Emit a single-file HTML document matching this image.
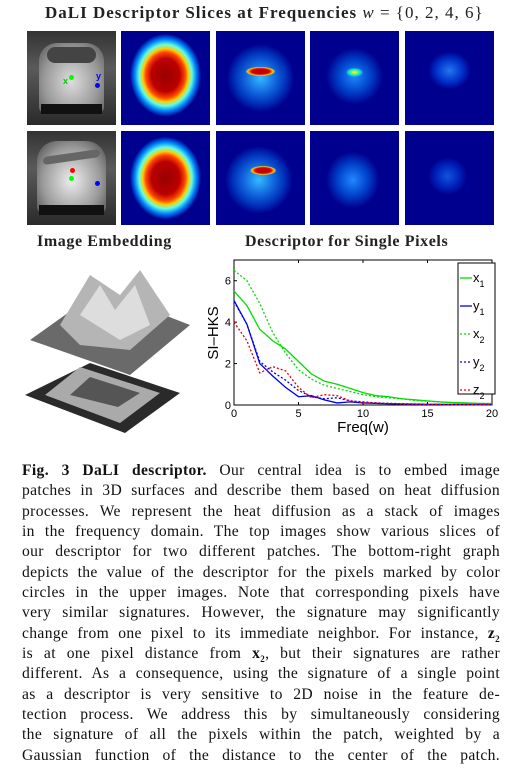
<!DOCTYPE html>
<html><head><meta charset="utf-8"><style>
body{margin:0;width:510px;height:774px;background:#fff;position:relative;overflow:hidden;font-family:"Liberation Serif",serif}
.t{position:absolute;font-weight:bold;font-size:16px;color:#222;white-space:nowrap;letter-spacing:0.6px}
.tile{position:absolute;width:89px;height:94px;background:#00008f}
.car{position:absolute;width:89px;height:94px;background:linear-gradient(#333,#5a5a5a 40%,#2a2a2a)}
#cap{position:absolute;left:22px;top:461px;width:478px;font-size:15.6px;letter-spacing:0.35px;color:#111}
#cap div{height:20.35px;line-height:20.35px;text-align:justify;text-align-last:justify;white-space:nowrap}
sub{font-size:9px;line-height:0}
</style></head><body>
<div class="t" style="left:45px;top:3px;font-size:17px;letter-spacing:1px">DaLI Descriptor Slices at Frequencies <i style="font-weight:normal">w</i> <span style="font-weight:normal">= {0, 2, 4, 6}</span></div>

<div class="car" style="left:27px;top:31px">
<div style="position:absolute;left:12px;top:12px;width:65px;height:70px;border-radius:18px 18px 6px 6px;background:radial-gradient(ellipse at 50% 55%,#ddd,#999 60%,#555)"></div>
<div style="position:absolute;left:20px;top:16px;width:49px;height:16px;background:#444;border-radius:8px"></div>
<div style="position:absolute;left:14px;top:73px;width:61px;height:10px;background:#111"></div>
<div style="position:absolute;left:42px;top:44px;width:5px;height:5px;border-radius:50%;background:#0f0"></div>
<div style="position:absolute;left:68px;top:52px;width:5px;height:5px;border-radius:50%;background:#00f"></div>
<span style="position:absolute;left:36px;top:45px;color:#0c0;font:bold 9px 'Liberation Sans'">x</span>
<span style="position:absolute;left:69px;top:40px;color:#00f;font:bold 9px 'Liberation Sans'">y</span>
</div>
<div class="car" style="left:27px;top:131px">
<div style="position:absolute;left:10px;top:10px;width:69px;height:72px;border-radius:20px 20px 6px 6px;background:radial-gradient(ellipse at 50% 55%,#eee,#999 60%,#444)"></div>
<div style="position:absolute;left:16px;top:22px;width:57px;height:8px;background:#666;border-radius:8px;transform:skewY(-8deg)"></div>
<div style="position:absolute;left:12px;top:74px;width:65px;height:10px;background:#111"></div>
<div style="position:absolute;left:42px;top:45px;width:5px;height:5px;border-radius:50%;background:#0f0"></div>
<div style="position:absolute;left:43px;top:37px;width:5px;height:5px;border-radius:50%;background:#f00"></div>
<div style="position:absolute;left:68px;top:50px;width:5px;height:5px;border-radius:50%;background:#00f"></div>
</div>

<div class="tile" style="left:121px;top:31px;background:radial-gradient(ellipse 40% 44% at 50% 47%,#900 0%,#b00 40%,#f40 55%,#fc0 64%,#6fd 74%,#08f 86%,#00008f 100%),#00008f"></div>
<div class="tile" style="left:216px;top:31px;background:radial-gradient(ellipse 17% 5% at 50% 43%,#a00 0%,#d00 60%,#fc0 85%,transparent 100%),radial-gradient(ellipse 38% 36% at 50% 50%,#3bf 0%,#16d 45%,#03b 75%,#00008f 100%)"></div>
<div class="tile" style="left:310px;top:31px;background:radial-gradient(ellipse 10% 5% at 50% 44%,#ff0 0%,#0dd 70%,transparent 100%),radial-gradient(ellipse 32% 30% at 50% 48%,#28f 0%,#04c 55%,#00008f 100%)"></div>
<div class="tile" style="left:405px;top:31px;background:radial-gradient(ellipse 24% 20% at 50% 42%,#27e 0%,#03c 60%,#00008f 100%)"></div>

<div class="tile" style="left:121px;top:131px;background:radial-gradient(ellipse 40% 44% at 50% 50%,#900 0%,#b00 40%,#f40 55%,#fc0 64%,#6fd 74%,#08f 86%,#00008f 100%),#00008f"></div>
<div class="tile" style="left:216px;top:131px;background:radial-gradient(ellipse 15% 5% at 53% 42%,#a00 0%,#d00 60%,#fc0 85%,transparent 100%),radial-gradient(ellipse 38% 36% at 48% 52%,#3bf 0%,#16d 45%,#03b 75%,#00008f 100%)"></div>
<div class="tile" style="left:310px;top:131px;background:radial-gradient(ellipse 30% 30% at 48% 52%,#28f 0%,#04c 55%,#00008f 100%)"></div>
<div class="tile" style="left:405px;top:131px;background:radial-gradient(ellipse 22% 20% at 48% 48%,#15d 0%,#02b 60%,#00008f 100%)"></div>

<div class="t" style="left:37px;top:233px">Image Embedding</div>
<div class="t" style="left:245px;top:233px">Descriptor for Single Pixels</div>

<svg style="position:absolute;left:20px;top:255px" width="180" height="180">
<polygon points="70,108 160,138 105,178 5,140" fill="#2a2a2a"/>
<polygon points="60,112 140,138 100,168 25,140" fill="#aaa"/>
<polygon points="70,122 120,138 98,152 50,140" fill="#555"/>
<polygon points="80,35 170,70 110,120 10,85" fill="#6a6a6a"/>
<polygon points="40,70 70,20 100,40 120,15 150,60 110,95 60,90" fill="#b5b5b5"/>
<polygon points="60,60 80,30 95,55 115,30 130,70 100,85" fill="#ddd"/>
</svg>

<svg id="chart" style="position:absolute;left:0;top:0" width="510" height="460" font-family="Liberation Sans, sans-serif"></svg>

<div id="cap">
<div><b>Fig. 3 DaLI descriptor.</b> Our central idea is to embed image</div>
<div>patches in 3D surfaces and describe them based on heat diffusion</div>
<div>processes. We represent the heat diffusion as a stack of images</div>
<div>in the frequency domain. The top images show various slices of</div>
<div>our descriptor for two different patches. The bottom-right graph</div>
<div>depicts the value of the descriptor for the pixels marked by color</div>
<div>circles in the upper images. Note that corresponding pixels have</div>
<div>very similar signatures. However, the signature may significantly</div>
<div>change from one pixel to its immediate neighbor. For instance, <b>z<sub>2</sub></b></div>
<div>is at one pixel distance from <b>x<sub>2</sub></b>, but their signatures are rather</div>
<div>different. As a consequence, using the signature of a single point</div>
<div>as a descriptor is very sensitive to 2D noise in the feature de-</div>
<div>tection process. We address this by simultaneously considering</div>
<div>the signature of all the pixels within the patch, weighted by a</div>
<div>Gaussian function of the distance to the center of the patch.</div>
</div>

<script>
const freqs=[0,1,2,3,4,5,6,7,8,9,10,11,12,13,14,15,16,17,18,19,20];
const x1=[5.5,4.8,3.65,3.1,2.7,2.1,1.5,1.15,1.0,0.8,0.6,0.45,0.4,0.3,0.25,0.2,0.15,0.12,0.1,0.08,0.07];
const y1=[5.05,3.9,2.0,1.4,0.85,0.4,0.45,0.25,0.1,0.15,0.1,0.08,0.06,0.05,0.04,0.03,0.03,0.02,0.02,0.02,0.02];
const x2=[6.5,6.0,4.9,3.5,2.5,1.7,1.25,0.95,0.8,0.65,0.5,0.4,0.35,0.3,0.22,0.18,0.14,0.1,0.08,0.07,0.06];
const y2=[5.0,3.9,2.1,1.6,1.2,0.7,0.4,0.3,0.35,0.2,0.15,0.1,0.08,0.06,0.05,0.04,0.03,0.03,0.02,0.02,0.02];
const z2=[4.0,3.1,1.55,1.85,1.65,0.85,0.35,0.5,0.45,0.2,0.12,0.1,0.07,0.05,0.04,0.03,0.03,0.02,0.02,0.02,0.02];
const xTicks=[0,5,10,15,20];
const yTicks=[0,2,4,6];
const seriesNames=["x1","y1","x2","y2","z2"];
const NS="http://www.w3.org/2000/svg";
const svg=document.getElementById('chart');
const L=234,R=492,T=260,B=405;
const sx=v=>L+v/20*(R-L);
const sy=v=>B-v/7*(B-T);
function mk(tag,attrs,parent){const e=document.createElementNS(NS,tag);for(const k in attrs)e.setAttribute(k,attrs[k]);(parent||svg).appendChild(e);return e;}
const frame=mk('rect',{x:L,y:T,width:R-L,height:B-T,fill:'none',stroke:'#000','stroke-width':1});


xTicks.forEach(v=>{
  mk('line',{x1:sx(v),x2:sx(v),y1:B,y2:B-3,stroke:'#000'});
  mk('line',{x1:sx(v),x2:sx(v),y1:T,y2:T+3,stroke:'#000'});
  const t=mk('text',{x:sx(v),y:B+12,'font-size':11,'text-anchor':'middle'});t.textContent=v;
  
  
});
yTicks.forEach(v=>{
  mk('line',{x1:L,x2:L+3,y1:sy(v),y2:sy(v),stroke:'#000'});
  mk('line',{x1:R,x2:R-3,y1:sy(v),y2:sy(v),stroke:'#000'});
  const t=mk('text',{x:L-3,y:sy(v)+4,'font-size':11,'text-anchor':'end'});t.textContent=v;
  
  
});
const xt=mk('text',{x:(L+R)/2,y:432,'font-size':15,'text-anchor':'middle'});xt.textContent='Freq(w)';


const yt=mk('text',{x:0,y:0,'font-size':15,'text-anchor':'middle',transform:'translate(218,333) rotate(-90)'});yt.textContent='SI\u2013HKS';


const data=[x1,y1,x2,y2,z2];
const cols=['#0d0','#00e','#0d0','#00e','#e00'];
const dash=[null,null,'2,2','2,2','2,2'];
data.forEach((d,i)=>{
  const p=mk('polyline',{points:d.map((v,j)=>sx(freqs[j])+','+sy(v)).join(' '),fill:'none',stroke:cols[i],'stroke-width':1.3});
  if(dash[i])p.setAttribute('stroke-dasharray',dash[i]);
  
  
});
const lg=mk('rect',{x:458,y:263,width:37,height:131,fill:'#fff',stroke:'#000'});


seriesNames.forEach((n,i)=>{
  const y=278+i*28;
  const l=mk('line',{x1:460,x2:472,y1:y,y2:y,stroke:cols[i],'stroke-width':1.3});
  if(dash[i])l.setAttribute('stroke-dasharray',dash[i]);
  const t=mk('text',{x:473,y:y+4,'font-size':13});
  t.textContent=n[0];
  const s=mk('tspan',{dy:5,'font-size':9},t);s.textContent=n[1];
  
  
});
</script>
</body></html>
